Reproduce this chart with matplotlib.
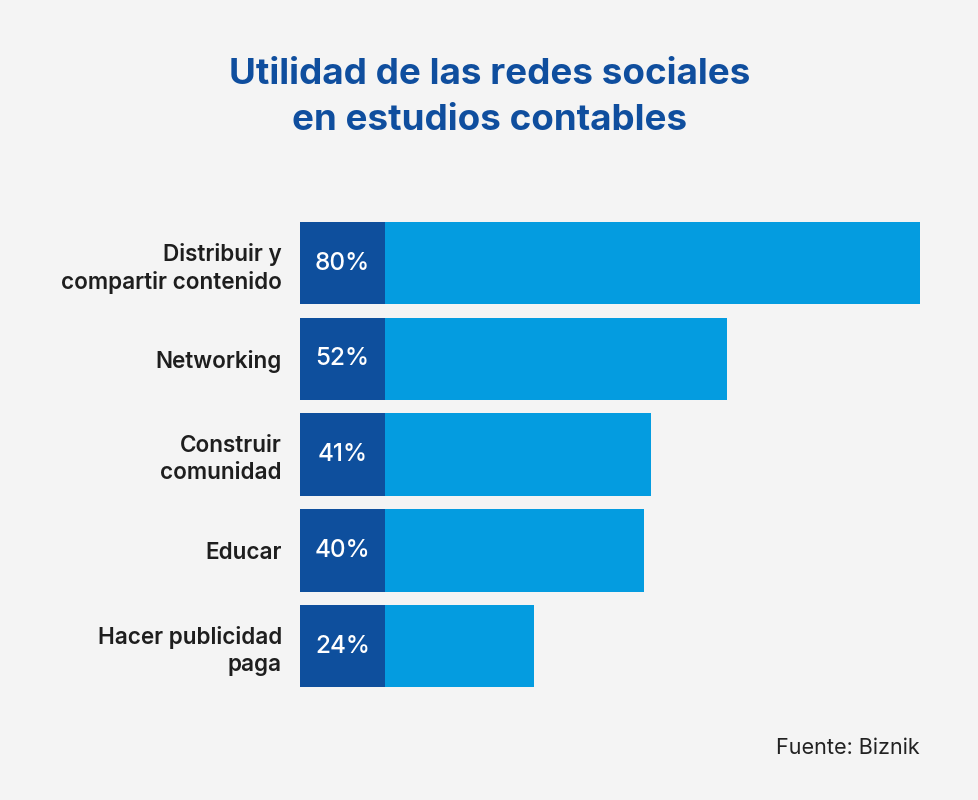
import numpy as np
import matplotlib.pyplot as plt

plt.rcParams['font.family'] = ['Inter', 'DejaVu Sans']

categories = ['Distribuir y\ncompartir contenido', 'Networking', 'Construir\ncomunidad',
              'Educar', 'Hacer publicidad\npaga']
values = [80, 52, 41, 40, 24]
title = 'Utilidad de las redes sociales\nen estudios contables'
source = 'Fuente: Biznik'

bg = '#f4f4f4'
dark = '#0e4f9d'
light = '#049ce0'
base = -10      # bars start a bit left of zero
tab = 12.3      # width of the dark label block

fig = plt.figure(figsize=(9.79, 8), dpi=100, facecolor=bg)
ax = fig.add_axes([300 / 979, 1 - 697 / 800, 620 / 979, 479 / 800])
ax.set_facecolor(bg)

y = np.arange(len(values))
ax.barh(y, np.array(values) - base, left=base, height=0.86, color=light)
ax.barh(y, tab, left=base, height=0.86, color=dark)
for yi, v in zip(y, values):
    ax.text(base + tab / 2, yi, f'{v}%', color='white', fontsize=17.5,
            fontweight='medium', ha='center', va='center')

ax.set_xlim(base, 80)
ax.set_ylim(len(values) - 0.5 + 0.03, -0.5 + 0.03)
ax.set_yticks(y)
ax.set_yticklabels(categories, fontsize=16.2, fontweight='semibold', color='#1e1e1e',
                   linespacing=1.3, multialignment='right')
ax.tick_params(axis='y', length=0, pad=13)
ax.set_xticks([])
for s in ax.spines.values():
    s.set_visible(False)

fig.text(0.5, 1 - 97 / 800, title, ha='center', va='center', fontsize=26.5,
         fontweight='bold', color='#0f4e9e', linespacing=1.5)
fig.text(920 / 979, 1 - 748 / 800, source, ha='right', va='center', fontsize=15.5,
         color='#222222')

fig.savefig('out.png', dpi=100, facecolor=bg)
